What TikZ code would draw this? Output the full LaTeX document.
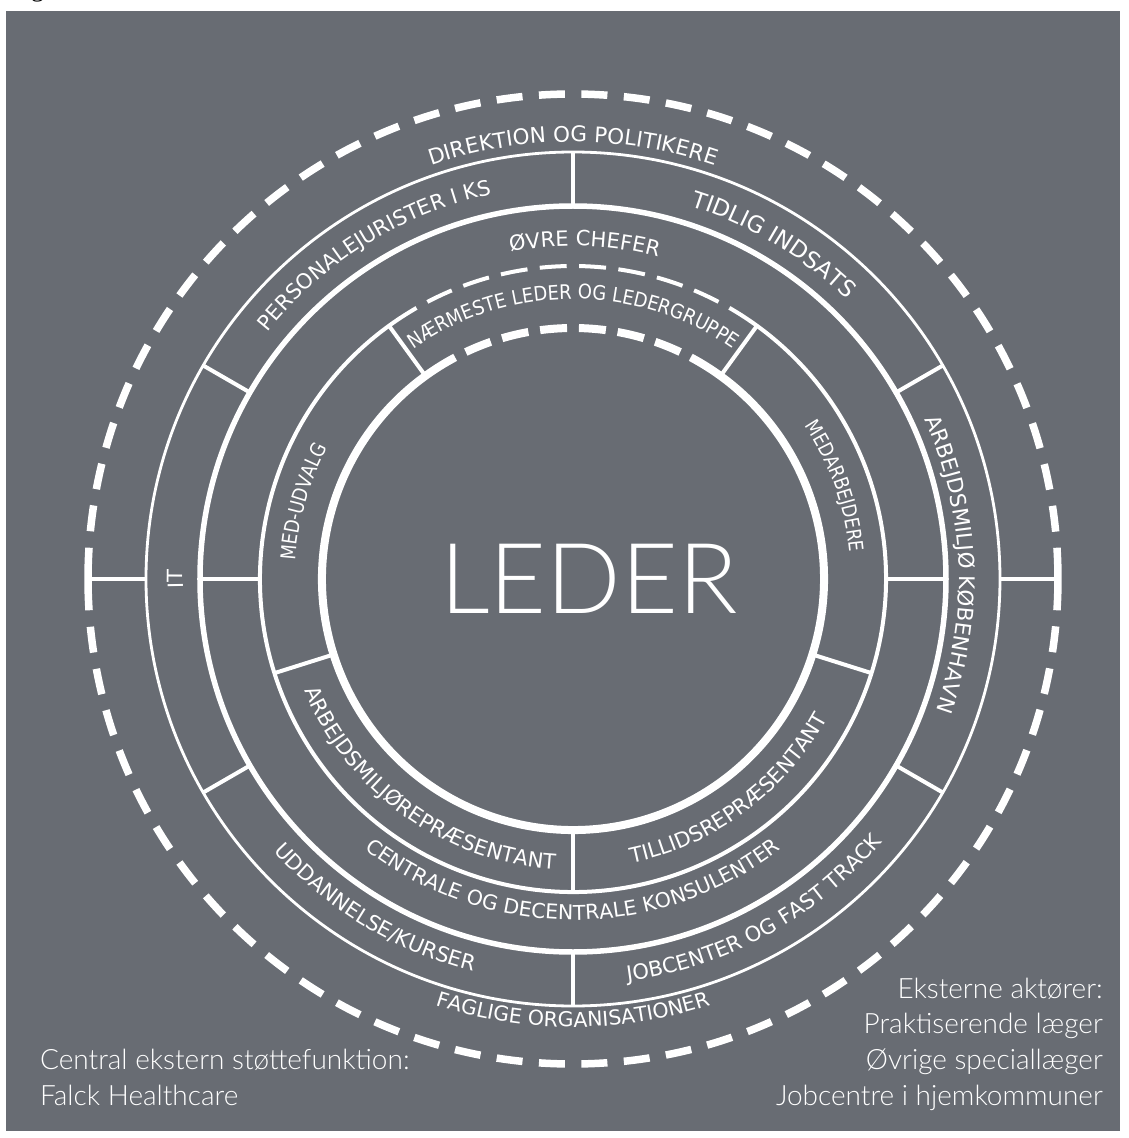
\documentclass[tikz,border=0pt]{standalone}
\usepackage{fontspec}
\usepackage{tikz}
\usetikzlibrary{decorations.text}
\newfontfamily\ringfam{DejaVu Sans}
\newfontfamily\ringcond[FakeStretch=0.9]{DejaVu Sans}
\newfontfamily\ringnarrow[FakeStretch=0.85]{DejaVu Sans}
\IfFontExistsTF{Lato Light}{\newfontfamily\gillfam{Lato Light}}{\newfontfamily\gillfam{Lato}}
\newfontfamily\capfam{Liberation Serif}
\definecolor{panelgray}{RGB}{104,108,115}
\newcommand\rsize[1]{\ringfam\fontsize{#1}{#1}\selectfont}
\newcommand\csize[1]{\ringcond\fontsize{#1}{#1}\selectfont}
\newcommand\nsize[1]{\ringnarrow\fontsize{#1}{#1}\selectfont}
\newcommand\gsize[1]{\gillfam\fontsize{#1}{#1}\selectfont}

\begin{document}
\begin{tikzpicture}[x=1pt,y=1pt,line join=bevel,
  divider/.style={draw=white,line width=4pt},
  ringtext/.style={decorate,decoration={text along path,text align=center,text color=white,text={#1}}},
  sidetext/.style={text=white,inner sep=0pt,font=\gsize{28}}]

\useasboundingbox (-573,-559) rectangle (556,579);
\fill[panelgray] (-567,-552) rectangle (547,568);
\node[font=\capfam\fontsize{26}{26}\selectfont,anchor=base west,inner sep=0pt] (figtag) at (-542,582.5) {g};

\draw[white,line width=8pt] (118:251pt) arc[start angle=118,end angle=422,radius=251pt];
\draw[white,line width=8pt,dash pattern=on 27pt off 11.9pt,dash phase=27pt] (118:251pt) arc[start angle=118,end angle=62,radius=251pt];

\draw[white,line width=4pt] (120:313pt) arc[start angle=120,end angle=420,radius=313pt];
\draw[white,line width=4pt,dash pattern=on 27pt off 12.4pt,dash phase=27pt] (120:313pt) arc[start angle=120,end angle=60,radius=313pt];

\draw[white,line width=5.5pt] (0,0) circle[radius=373pt];
\draw[white,line width=2.8pt] (0,0) circle[radius=427pt];

\foreach \a in {0,180}
  \draw[white,line width=7.5pt] (\a-3.7:485pt) arc[start angle=\a-3.7,end angle=\a+3.7,radius=485pt];
\draw[white,line width=7.5pt,dash pattern=on 26pt off 16.5pt,dash phase=26pt] (176.3:485pt) arc[start angle=176.3,end angle=3.7,radius=485pt];
\draw[white,line width=7.5pt,dash pattern=on 26pt off 16.5pt,dash phase=26pt] (183.7:485pt) arc[start angle=183.7,end angle=356.3,radius=485pt];

\foreach \a in {0,180} \draw[divider] (\a:427pt) -- (\a:485pt);
\foreach \a in {30,90,...,330} \draw[divider] (\a:373pt) -- (\a:427pt);
\foreach \a in {0,180} \draw[divider] (\a:313pt) -- (\a:373pt);
\foreach \a in {54,126,197.5,270,342.5} \draw[divider] (\a:251pt) -- (\a:313pt);

\path[ringtext={|\rsize{21.5}|DIREKTION OG POLITIKERE}] (140:437pt) arc[start angle=140,end angle=40,radius=437pt];
\path[ringtext={|\rsize{20.5}|FAGLIGE ORGANISATIONER}] (220:448pt) arc[start angle=220,end angle=320,radius=448pt];

\path[ringtext={|\rsize{21}|PERSONALEJURISTER I KS}] (150:393pt) arc[start angle=150,end angle=93,radius=393pt];
\path[ringtext={|\rsize{23}|TIDLIG INDSATS}] (88.5:391pt) arc[start angle=88.5,end angle=29.5,radius=391pt];
\path[ringtext={|\rsize{21.5}|ARBEJDSMILJØ KØBENHAVN}] (29:386pt) arc[start angle=29,end angle=-24.4,radius=386pt];
\path[ringtext={|\rsize{21}|JOBCENTER OG FAST TRACK}] (272:406pt) arc[start angle=272,end angle=325.4,radius=406pt];
\path[ringtext={|\rsize{21}|UDDANNELSE/KURSER}] (212:405pt) arc[start angle=212,end angle=266,radius=405pt];
\path[ringtext={|\rsize{21}|IT}] (200:390pt) arc[start angle=200,end angle=160,radius=390pt];

\path[ringtext={|\rsize{21}|ØVRE CHEFER}] (148:333pt) arc[start angle=148,end angle=28,radius=333pt];
\path[ringtext={|\rsize{20.5}|CENTRALE OG DECENTRALE KONSULENTER}] (200:341pt) arc[start angle=200,end angle=340,radius=341pt];

\path[ringtext={|\csize{20}|NÆRMESTE LEDER OG LEDERGRUPPE}] (130:280pt) arc[start angle=130,end angle=50,radius=280pt];
\path[ringtext={|\nsize{20.5}|MED-UDVALG}] (190:278pt) arc[start angle=190,end angle=138,radius=278pt];
\path[ringtext={|\nsize{20}|MEDARBEJDERE}] (50:278pt) arc[start angle=50,end angle=-11,radius=278pt];
\path[ringtext={|\rsize{21}|ARBEJDSMILJØREPRÆSENTANT}] (195:291pt) arc[start angle=195,end angle=274,radius=291pt];
\path[ringtext={|\rsize{21}|TILLIDSREPRÆSENTANT}] (272:290pt) arc[start angle=272,end angle=341,radius=290pt];

\node[text=white,inner sep=0pt,anchor=base,font=\gsize{98}] (leder) at (16,-34) {LEDER};

\node[sidetext,anchor=base east] (ext1) at (530,-419) {Eksterne aktører:};
\node[sidetext,anchor=base east] (ext2) at (530,-454) {Praktiserende læger};
\node[sidetext,anchor=base east] (ext3) at (530,-490) {Øvrige speciallæger};
\node[sidetext,anchor=base east] (ext4) at (530,-526) {Jobcentre i hjemkommuner};

\node[sidetext,anchor=base west] (falck1) at (-533,-490) {Central ekstern støttefunktion:};
\node[sidetext,anchor=base west] (falck2) at (-533,-526) {Falck Healthcare};

\end{tikzpicture}
\end{document}
